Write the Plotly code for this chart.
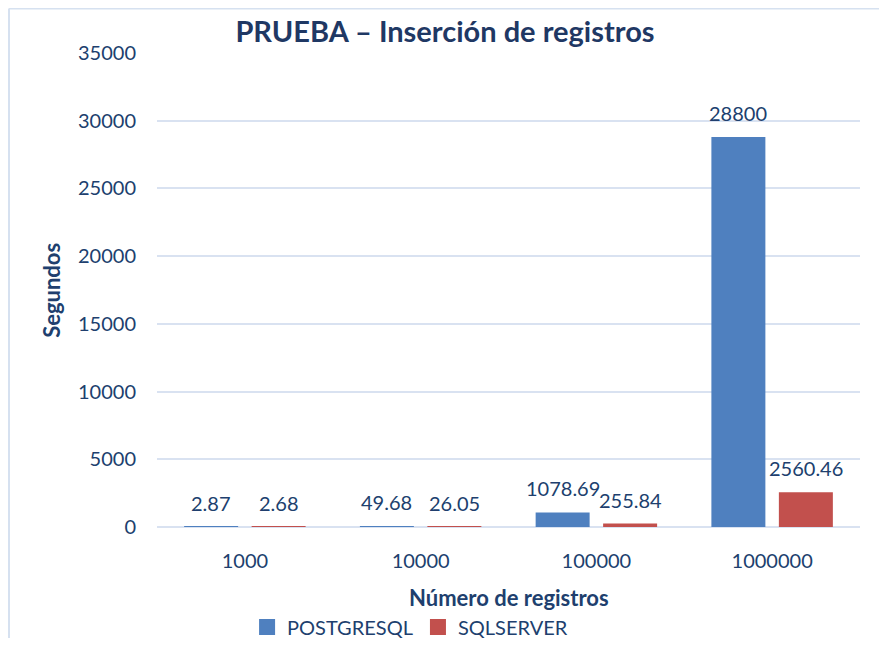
import plotly.graph_objects as go

categories = ["1000", "10000", "100000", "1000000"]
postgres = [2.87, 49.68, 1078.69, 28800]
sqlserver = [2.68, 26.05, 255.84, 2560.46]
y_ticks = [0, 5000, 10000, 15000, 20000, 25000, 30000, 35000]

TXT = "#203F6E"
FONT = "Lato"
BLUE = "#4F80BF"
RED = "#C2504D"

fig = go.Figure()
fig.add_trace(go.Bar(name="POSTGRESQL", x=categories, y=postgres, showlegend=False,
                     marker=dict(color=BLUE, line=dict(width=0))))
fig.add_trace(go.Bar(name="SQLSERVER", x=categories, y=sqlserver, showlegend=False,
                     marker=dict(color=RED, line=dict(width=0))))
# legend entries with larger square symbols
for name, col in (("POSTGRESQL", BLUE), ("SQLSERVER", RED)):
    fig.add_trace(go.Scatter(name=name, x=[None], y=[None], mode="markers",
                             marker=dict(symbol="square", size=16, color=col)))

# data labels
annotations = []
for vals, shift in ((postgres, -33.7), (sqlserver, 33.7)):
    for i, v in enumerate(vals):
        annotations.append(dict(x=i, y=v, xref="x", yref="y", text=f"{v:g}",
                                showarrow=False, xshift=shift, yshift=24,
                                yanchor="middle",
                                font=dict(family=FONT, size=20, color=TXT)))
annotations.append(dict(x=0.5, y=-0.148, xref="paper", yref="paper",
                        text="<b>Número de registros</b>", showarrow=False,
                        yanchor="middle",
                        font=dict(family=FONT, size=22, color=TXT)))
annotations.append(dict(x=-0.151, y=0.5, xref="paper", yref="paper",
                        text="<b>Segundos</b>", showarrow=False, textangle=-90,
                        xanchor="center", yanchor="middle",
                        font=dict(family=FONT, size=22, color=TXT)))

fig.update_layout(
    width=871, height=630,
    margin=dict(l=149, r=19, t=45, b=111, autoexpand=False),
    paper_bgcolor="white", plot_bgcolor="white",
    barmode="group", bargap=0.232, bargroupgap=0.2,
    title=dict(text="<b>PRUEBA – Inserción de registros</b>", x=0.5017, y=0.962,
               xanchor="center", yanchor="middle",
               font=dict(family=FONT, size=29, color="#1F3864")),
    font=dict(family=FONT, size=20, color=TXT),
    showlegend=True,
    legend=dict(orientation="h", x=0.36, y=-0.211, xanchor="center",
                yanchor="middle", font=dict(family=FONT, size=20, color=TXT),
                itemwidth=30, tracegroupgap=0, bgcolor="rgba(0,0,0,0)"),
    annotations=annotations,
    shapes=[
        dict(type="line", xref="paper", yref="paper", x0=-0.2105, x1=-0.2105,
             y0=1.094, y1=-0.3, line=dict(color="#D6E1F0", width=2)),
        dict(type="line", xref="paper", yref="paper", x0=-0.2105, x1=1.06,
             y0=1.094, y1=1.094, line=dict(color="#D6E1F0", width=2)),
    ],
)
fig.update_xaxes(type="category", range=[-0.5, 3.5], showgrid=False,
                 showline=False, ticks="", ticklabelstandoff=20, automargin=False,
                 tickfont=dict(family=FONT, size=20, color=TXT))
fig.update_yaxes(range=[0, 35000], tickvals=y_ticks,
                 ticktext=[str(t) for t in y_ticks], automargin=False,
                 showgrid=True, gridcolor="#D9E2F1", gridwidth=2,
                 zeroline=True, zerolinecolor="#D9E2F1", zerolinewidth=2,
                 showline=False, ticks="", ticklabelstandoff=20,
                 tickfont=dict(family=FONT, size=20, color=TXT))

fig.write_html("out.html")
